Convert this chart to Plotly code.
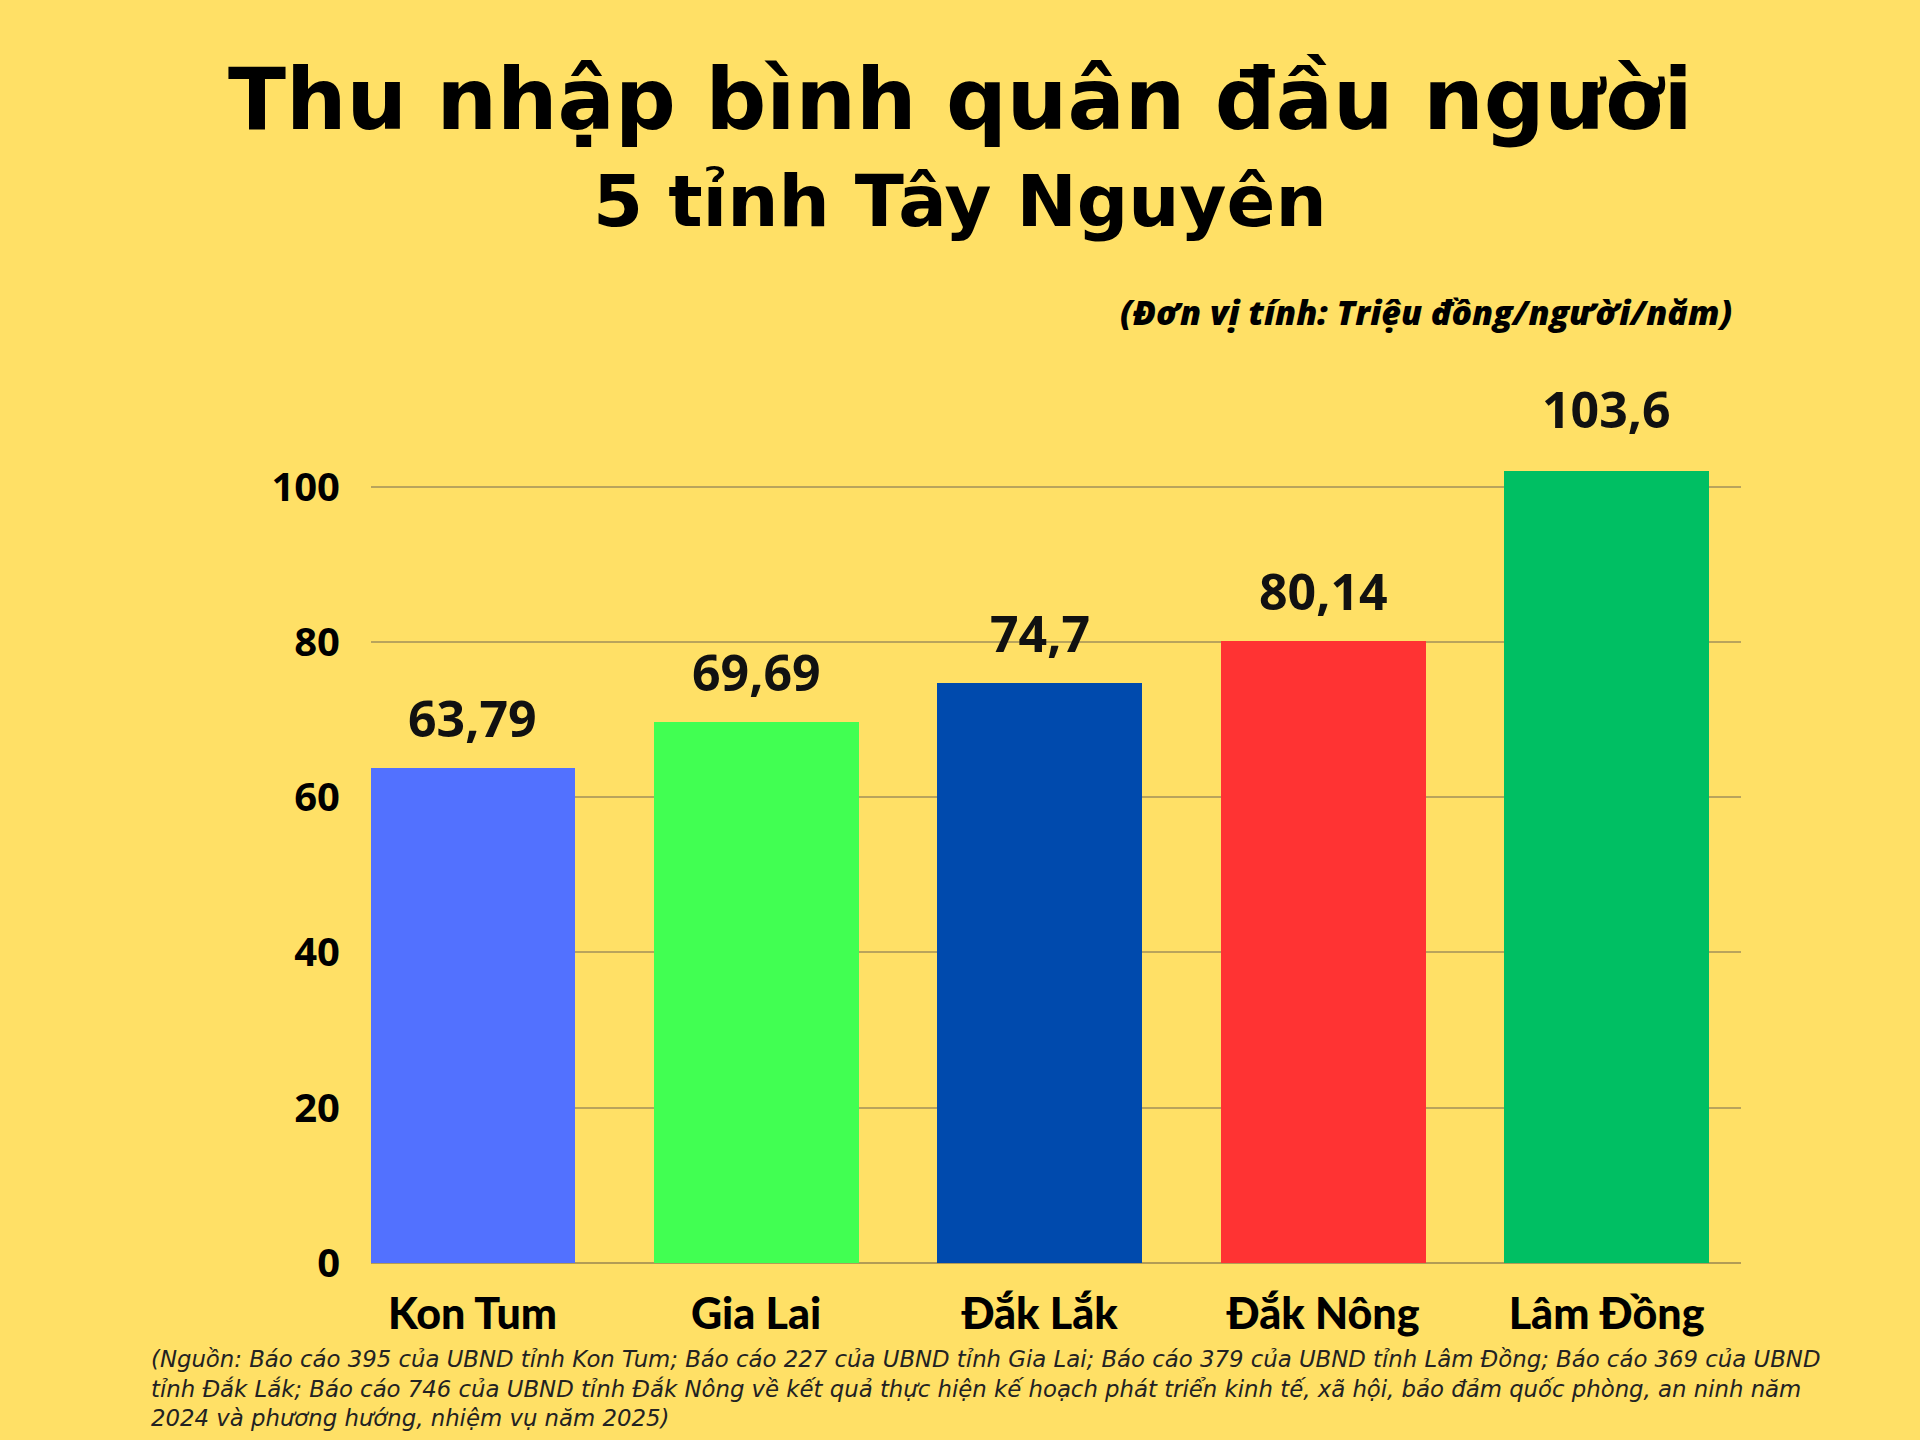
import plotly.graph_objects as go

categories = ["Kon Tum", "Gia Lai", "Đắk Lắk", "Đắk Nông", "Lâm Đồng"]
values = [63.79, 69.69, 74.7, 80.14, 103.6]
value_labels = ["63,79", "69,69", "74,7", "80,14", "103,6"]
bar_colors = ["#5271FF", "#41FF52", "#004AAD", "#FF3333", "#00BF63"]
y_ticks = [0, 20, 40, 60, 80, 100]
y_max = 102

title_1 = "Thu nhập bình quân đầu người"
title_2 = "5 tỉnh Tây Nguyên"
unit_text = "(Đơn vị tính: Triệu đồng/người/năm)"
source_lines = [
    "(Nguồn: Báo cáo 395 của UBND tỉnh Kon Tum; Báo cáo 227 của UBND tỉnh Gia Lai; Báo cáo 379 của UBND tỉnh Lâm Đồng; Báo cáo 369 của UBND",
    "tỉnh Đắk Lắk; Báo cáo 746 của UBND tỉnh Đắk Nông về kết quả thực hiện kế hoạch phát triển kinh tế, xã hội, bảo đảm quốc phòng, an ninh năm",
    "2024 và phương hướng, nhiệm vụ năm 2025)",
]

BG = "#FFE066"
W, H = 1920, 1440
ML, MR, MT, MB = 371, 179, 471, 177

fig = go.Figure()
fig.add_trace(go.Bar(
    x=list(range(len(categories))),
    y=values,
    marker=dict(color=bar_colors, line=dict(width=0)),
    width=0.723,
    hoverinfo="skip",
))

# value labels (paper y so that labels above the clipped range still show)
for i, (v, lab) in enumerate(zip(values, value_labels)):
    fig.add_annotation(
        x=i, y=v / y_max, xref="x", yref="paper", text=lab, showarrow=False,
        yanchor="bottom", yshift=14,
        font=dict(family="Open Sans", size=50, color="#111111", weight=700),
    )

fig.update_layout(
    width=W, height=H,
    paper_bgcolor=BG, plot_bgcolor=BG,
    margin=dict(l=ML, r=MR, t=MT, b=MB),
    showlegend=False,
    bargap=0,
    xaxis=dict(
        range=[-0.358, 4.474],
        tickmode="array",
        tickvals=list(range(len(categories))),
        ticktext=categories,
        tickfont=dict(family="Lato", size=43, color="#000000", weight=900),
        showgrid=False, zeroline=False, showline=False,
        ticks="", ticklabelstandoff=22,
        fixedrange=True,
    ),
    yaxis=dict(
        range=[0, y_max],
        tickmode="array",
        tickvals=y_ticks,
        ticktext=[str(t) for t in y_ticks],
        tickfont=dict(family="Open Sans", size=40, color="#000000", weight=700),
        showgrid=True, gridcolor="#B9A45C", gridwidth=1.5,
        zeroline=True, zerolinecolor="#B39C55", zerolinewidth=2,
        showline=False, ticks="", ticklabelstandoff=30,
        fixedrange=True,
    ),
)

plot_h = H - MT - MB
plot_w = W - ML - MR

def py(y_px):
    return (H - MB - y_px) / plot_h

def px(x_px):
    return (x_px - ML) / plot_w

fig.add_annotation(x=px(960), y=py(99), xref="paper", yref="paper", text=title_1,
                   showarrow=False, xanchor="center", yanchor="middle",
                   font=dict(family="DejaVu Sans", size=85, color="#000000", weight=700))
fig.add_annotation(x=px(960), y=py(201), xref="paper", yref="paper", text=title_2,
                   showarrow=False, xanchor="center", yanchor="middle",
                   font=dict(family="DejaVu Sans", size=72, color="#000000", weight=700))
fig.add_annotation(x=px(1734), y=py(312), xref="paper", yref="paper", text="<i>" + unit_text + "</i>",
                   showarrow=False, xanchor="right", yanchor="middle",
                   font=dict(family="Open Sans", size=34, color="#000000", weight=800))
fig.add_annotation(x=px(149), y=py(1344), xref="paper", yref="paper",
                   text="<i>" + "<br>".join(source_lines) + "</i>",
                   showarrow=False, xanchor="left", yanchor="top", align="left",
                   font=dict(family="DejaVu Sans", size=22.8, color="#222222", weight=300))

fig.write_html("out.html")
